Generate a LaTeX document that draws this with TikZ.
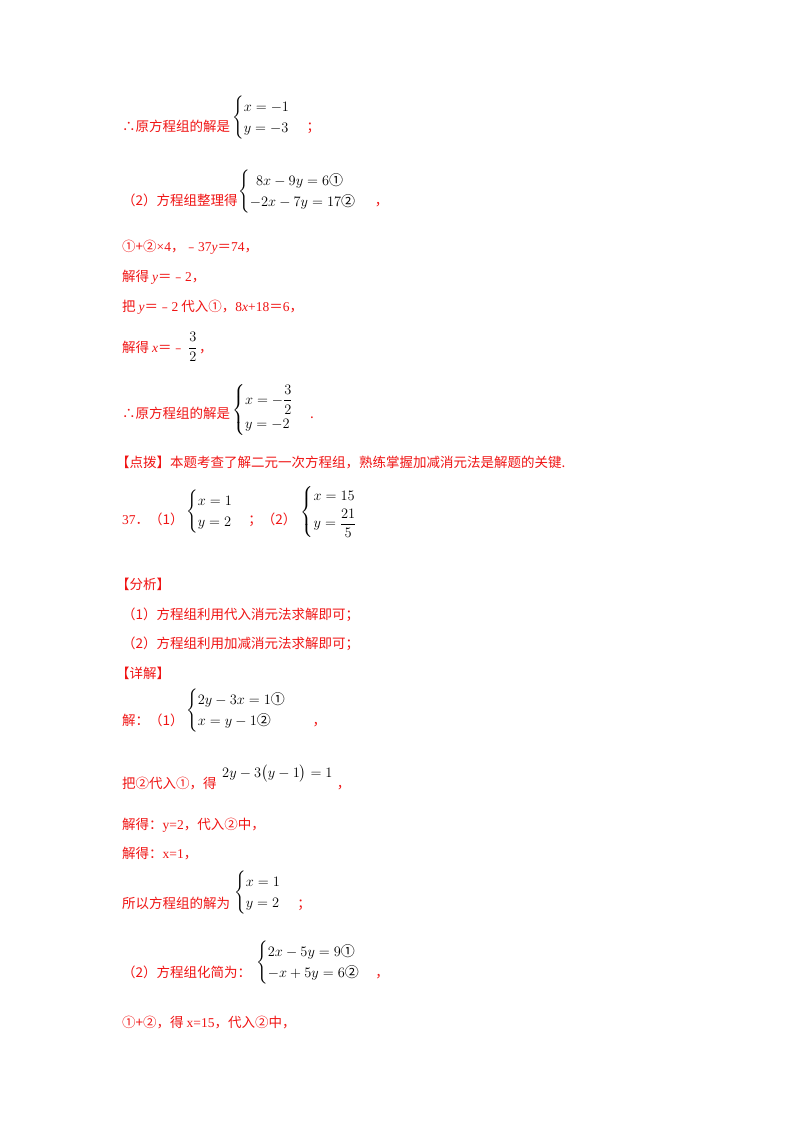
\documentclass[tikz,border=0pt]{standalone}
\usepackage{amsmath}
\usepackage{fontspec}
\setmainfont{Noto Sans CJK SC}
\newfontfamily\serifnum{Liberation Serif}
\newcommand{\sn}[1]{{\serifnum #1}}
\definecolor{ans}{RGB}{240,20,20}
\begin{document}
\begin{tikzpicture}[x=1pt,y=-1pt,
  txt/.style={anchor=base west,inner sep=0pt,text=ans,font=\fontsize{13.5}{16}\selectfont},
  mth/.style={anchor=west,inner sep=0pt,text=black,font=\fontsize{14}{17}\selectfont}]
\useasboundingbox (0,0) rectangle (800,1132);
\fill[white] (0,0) rectangle (800,1132);
\node[txt] (a1) at (122,131) {∴原方程组的解是};
\node[mth] (s1) at (232,118) {$\begin{cases}x=-1\\ y=-3\end{cases}$};
\node[txt] (a1e) at ([xshift=2]s1.east |- a1.base) {；};
\node[txt] (a2) at (122,205) {（2）方程组整理得};
\node[mth] (s2) at (238,192) {$\begin{cases}\ \ 8x-9y=6\text{①}\\ -2x-7y=17\text{②}\end{cases}$};
\node[txt] (a2e) at ([xshift=4]s2.east |- a2.base) {，};
\node[txt] (a3) at (122,251) {①+②\sn{×4}，﹣\sn{37\textit{y}}＝\sn{74}，};
\node[txt] (a4) at (122,281) {解得 \sn{\textit{y}}＝﹣\sn{2}，};
\node[txt] (a5) at (122,311) {把 \sn{\textit{y}}＝﹣\sn{2} 代入①，\sn{8\textit{x}+18}＝\sn{6}，};
\node[txt] (a6) at (122,352) {解得 \sn{\textit{x}}＝﹣};
\node[mth] (f1) at (188,347) {$\dfrac{3}{2}$};
\node[txt] (a6e) at ([xshift=1]f1.east |- a6.base) {，};
\node[txt] (a7) at (122,418) {∴原方程组的解是};
\node[mth] (s3) at (232,410) {$\begin{cases}x=-\dfrac32\\[4pt] y=-2\end{cases}$};
\node[txt] (a7e) at ([xshift=2]s3.east |- a7.base) {.};
\node[txt] (a8) at (116,467) {【点拨】本题考查了解二元一次方程组，熟练掌握加减消元法是解题的关键.};
\node[txt] (a9) at (122,524) {\sn{37}．（1）};
\node[mth] (s4) at (186,512) {$\begin{cases}x=1\\ y=2\end{cases}$};
\node[txt] (a9b) at ([xshift=1]s4.east |- a9.base) {；（2）};
\node[mth] (s5) at ([xshift=4]a9b.east |- s4.west) {$\begin{cases}x=15\\[2pt] y=\dfrac{21}{5}\end{cases}$};
\node[txt] (b1) at (116,589) {【分析】};
\node[txt] (b2) at (122,619) {（1）方程组利用代入消元法求解即可；};
\node[txt] (b3) at (122,648) {（2）方程组利用加减消元法求解即可；};
\node[txt] (b4) at (116,678) {【详解】};
\node[txt] (b5) at (122,725) {解：（1）};
\node[mth] (s6) at (186,711) {$\begin{cases}2y-3x=1\text{①}\\ x=y-1\text{②}\end{cases}$};
\node[txt] (b5e) at ([xshift=12]s6.east |- b5.base) {，};
\node[txt] (c1) at (122,788) {把②代入①，得};
\node[mth] (e1) at (222,774) {$2y-3\bigl(y-1\bigr)=1$};
\node[txt] (c1e) at ([xshift=4]e1.east |- c1.base) {，};
\node[txt] (c2) at (122,829) {解得：\sn{y=2}，代入②中，};
\node[txt] (c3) at (122,858) {解得：\sn{x=1}，};
\node[txt] (c4) at (122,908) {所以方程组的解为};
\node[mth] (s7) at (234,893) {$\begin{cases}x=1\\ y=2\end{cases}$};
\node[txt] (c4e) at ([xshift=2]s7.east |- c4.base) {；};
\node[txt] (d1) at (122,977) {（2）方程组化简为：};
\node[mth] (s8) at (256,963) {$\begin{cases}2x-5y=9\text{①}\\ -x+5y=6\text{②}\end{cases}$};
\node[txt] (d1e) at ([xshift=1]s8.east |- d1.base) {，};
\node[txt] (d2) at (122,1027) {①+②，得 \sn{x=15}，代入②中，};
\end{tikzpicture}
\end{document}
